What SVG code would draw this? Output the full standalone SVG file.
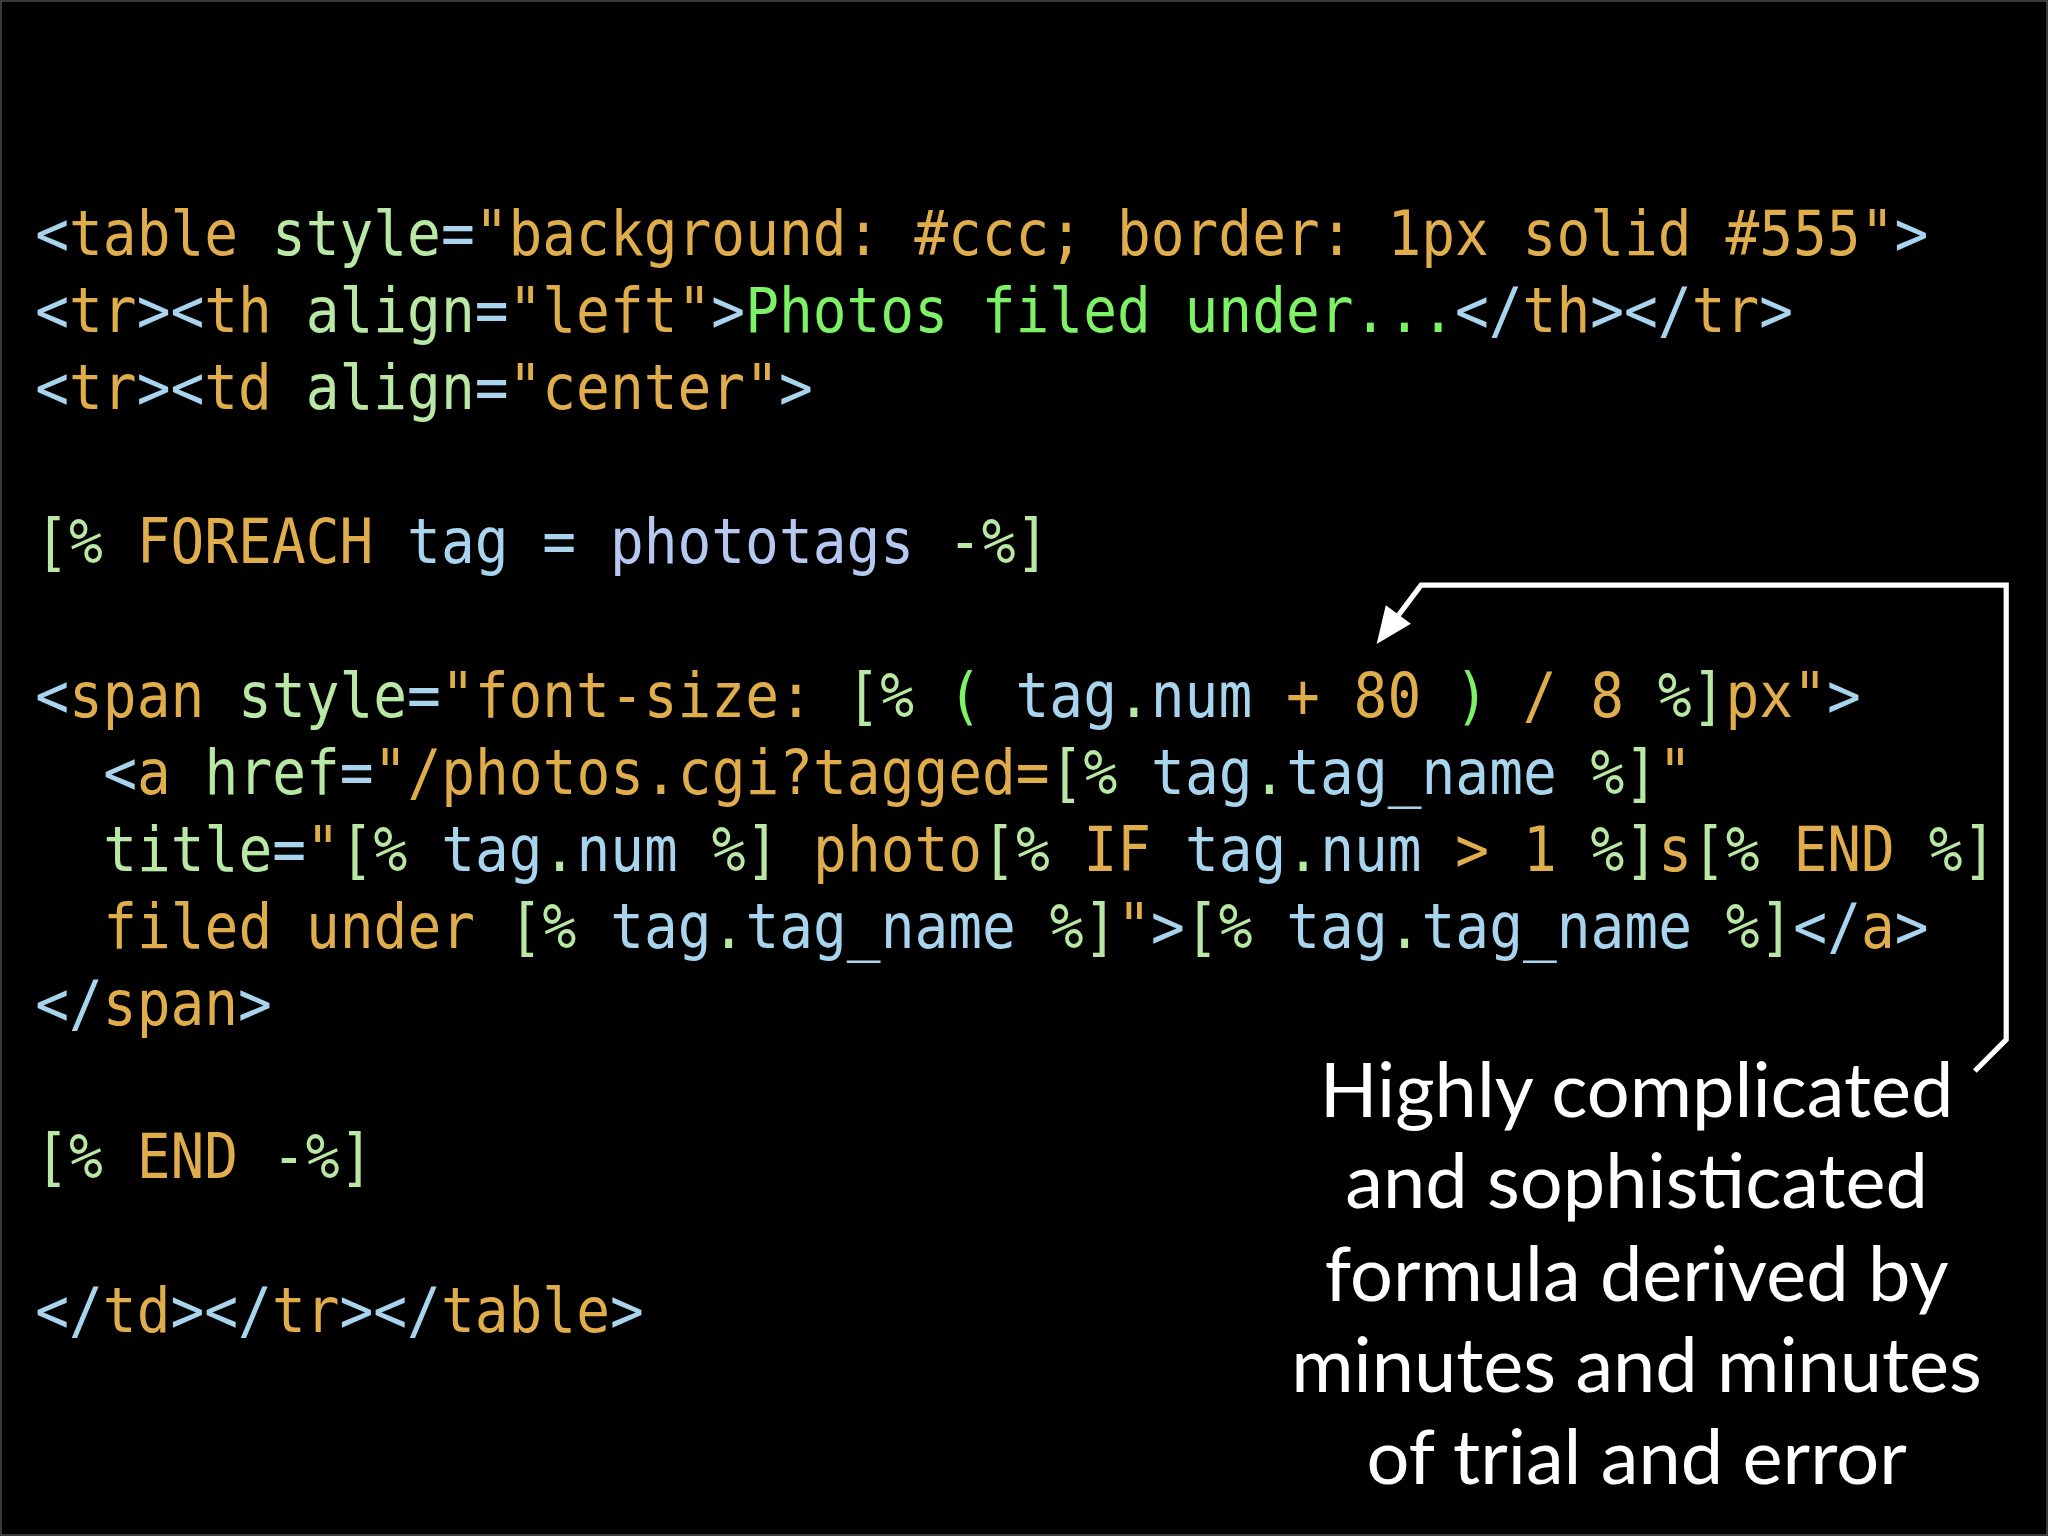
<svg xmlns="http://www.w3.org/2000/svg" width="2048" height="1536" viewBox="0 0 2048 1536">
<defs>
<style>
.c{font-family:"DejaVu Sans Mono",monospace;font-size:43px;white-space:pre}
.b{fill:#a9d4ee}.o{fill:#e0ad4c}.g{fill:#b8e8a4}.G{fill:#7ef266}.l{fill:#b7c8f0}
.t{font-family:Lato,"Open Sans",sans-serif;font-size:58px;fill:#fff;text-anchor:middle}
</style>
</defs>
<rect width="2048" height="1536" fill="#000"/>
<rect x="1" y="1" width="2046" height="1534" fill="none" stroke="#3a3a3a" stroke-width="2"/>
<g transform="scale(1.30612)">
<g id="code" class="c" xml:space="preserve" transform="scale(1,1.12)">
<text x="27" y="174.1"><tspan class="b">&lt;</tspan><tspan class="o">table</tspan><tspan class="g"> style</tspan><tspan class="b">=</tspan><tspan class="o">"background: #ccc; border: 1px solid #555"</tspan><tspan class="b">&gt;</tspan></text>
<text x="27" y="226.8"><tspan class="b">&lt;</tspan><tspan class="o">tr</tspan><tspan class="b">&gt;&lt;</tspan><tspan class="o">th</tspan><tspan class="g"> align</tspan><tspan class="b">=</tspan><tspan class="o">"left"</tspan><tspan class="b">&gt;</tspan><tspan class="G">Photos filed under...</tspan><tspan class="b">&lt;/</tspan><tspan class="o">th</tspan><tspan class="b">&gt;&lt;/</tspan><tspan class="o">tr</tspan><tspan class="b">&gt;</tspan></text>
<text x="27" y="279.5"><tspan class="b">&lt;</tspan><tspan class="o">tr</tspan><tspan class="b">&gt;&lt;</tspan><tspan class="o">td</tspan><tspan class="g"> align</tspan><tspan class="b">=</tspan><tspan class="o">"center"</tspan><tspan class="b">&gt;</tspan></text>
<text x="27" y="384.8"><tspan class="g">[%</tspan><tspan class="o"> FOREACH</tspan><tspan class="b"> tag =</tspan><tspan class="l"> phototags</tspan><tspan class="g"> -%]</tspan></text>
<text x="27" y="490.2"><tspan class="b">&lt;</tspan><tspan class="o">span</tspan><tspan class="g"> style</tspan><tspan class="b">=</tspan><tspan class="o">"font-size: </tspan><tspan class="g">[%</tspan><tspan class="G"> (</tspan><tspan class="b"> tag</tspan><tspan class="g">.</tspan><tspan class="b">num</tspan><tspan class="o"> + 80</tspan><tspan class="G"> )</tspan><tspan class="o"> / 8</tspan><tspan class="g"> %]</tspan><tspan class="o">px"</tspan><tspan class="b">&gt;</tspan></text>
<text x="79" y="542.9"><tspan class="b">&lt;</tspan><tspan class="o">a</tspan><tspan class="g"> href</tspan><tspan class="b">=</tspan><tspan class="o">"/photos.cgi?tagged=</tspan><tspan class="g">[%</tspan><tspan class="b"> tag</tspan><tspan class="g">.</tspan><tspan class="b">tag_name</tspan><tspan class="g"> %]</tspan><tspan class="o">"</tspan></text>
<text x="79" y="595.5"><tspan class="g">title</tspan><tspan class="b">=</tspan><tspan class="o">"</tspan><tspan class="g">[%</tspan><tspan class="b"> tag</tspan><tspan class="g">.</tspan><tspan class="b">num</tspan><tspan class="g"> %]</tspan><tspan class="o"> photo</tspan><tspan class="g">[%</tspan><tspan class="o"> IF</tspan><tspan class="b"> tag</tspan><tspan class="g">.</tspan><tspan class="b">num</tspan><tspan class="o"> &gt; 1</tspan><tspan class="g"> %]</tspan><tspan class="o">s</tspan><tspan class="g">[%</tspan><tspan class="o"> END</tspan><tspan class="g"> %]</tspan></text>
<text x="79" y="648.2"><tspan class="o">filed under </tspan><tspan class="g">[%</tspan><tspan class="b"> tag</tspan><tspan class="g">.</tspan><tspan class="b">tag_name</tspan><tspan class="g"> %]</tspan><tspan class="o">"</tspan><tspan class="b">&gt;</tspan><tspan class="g">[%</tspan><tspan class="b"> tag</tspan><tspan class="g">.</tspan><tspan class="b">tag_name</tspan><tspan class="g"> %]</tspan><tspan class="b">&lt;/</tspan><tspan class="o">a</tspan><tspan class="b">&gt;</tspan></text>
<text x="27" y="700.9"><tspan class="b">&lt;/</tspan><tspan class="o">span</tspan><tspan class="b">&gt;</tspan></text>
<text x="27" y="805.4"><tspan class="g">[%</tspan><tspan class="o"> END</tspan><tspan class="g"> -%]</tspan></text>
<text x="27" y="910.7"><tspan class="b">&lt;/</tspan><tspan class="o">td</tspan><tspan class="b">&gt;&lt;/</tspan><tspan class="o">tr</tspan><tspan class="b">&gt;&lt;/</tspan><tspan class="o">table</tspan><tspan class="b">&gt;</tspan></text>
</g>
<g id="connectors">
<path d="M1512,820L1536,796L1536,448L1088,448L1070,472" fill="none" stroke="#fff" stroke-width="4"/>
<polygon points="1054,493 1080.2,477.6 1061,463.4" fill="#fff"/>
</g>
<g id="callout" class="t">
<text x="1253" y="855">Highly complicated</text>
<text x="1253" y="925">and sophisticated</text>
<text x="1253" y="996">formula derived by</text>
<text x="1253" y="1066">minutes and minutes</text>
<text x="1253" y="1136">of trial and error</text>
</g>
</g>
</svg>
